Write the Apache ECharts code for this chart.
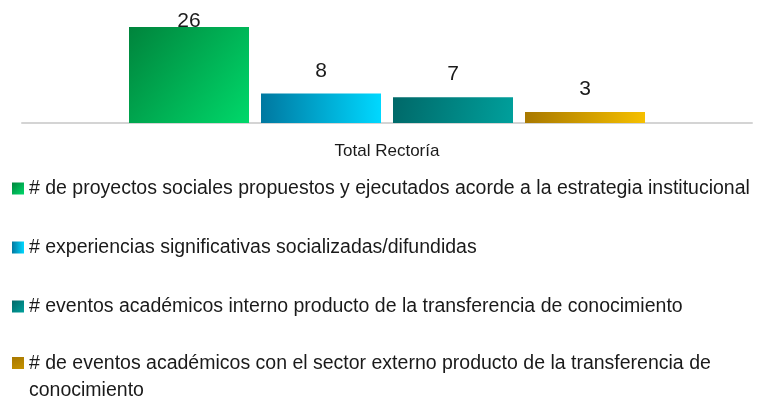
<!DOCTYPE html>
<html>
<head>
<meta charset="utf-8">
<script src="https://cdn.jsdelivr.net/npm/echarts@6/dist/echarts.min.js"></script>
<style>
    html, body { margin: 0; padding: 0; background: #fff; }
    #chart { width: 759px; height: 400px; }
</style>
</head>
<body>
<div id="chart"></div>
<script>
    let categories = ['Total Rectoría'];
    let seriesNames = [
        '# de proyectos sociales propuestos y ejecutados acorde a la estrategia institucional',
        '# experiencias significativas socializadas/difundidas',
        '# eventos académicos interno producto de la transferencia de conocimiento',
        '# de eventos académicos con el sector externo producto de la transferencia de conocimiento'
    ];
    let seriesValues = [26, 8, 7, 3];

    // gradient colours, dark -> light
    let gradients = [
        { x: 0, y: 0, x2: 1, y2: 1, from: '#00843c', to: '#00d86a' },
        { x: 0, y: 0, x2: 1, y2: 0, from: '#0078a0', to: '#00d8ff' },
        { x: 0, y: 0, x2: 1, y2: 1, from: '#006868', to: '#00a09c' },
        { x: 0, y: 0, x2: 1, y2: 1, from: '#a87800', to: '#f6c000' }
    ];

    let font = "'Liberation Sans', Arial, sans-serif";

    let chart = echarts.init(document.getElementById('chart'));

    let series = seriesNames.map(function (name, i) {
        let g = gradients[i];
        let top = seriesValues[i] === Math.max.apply(null, seriesValues);
        return {
            name: name,
            type: 'bar',
            barWidth: 120,
            barGap: '10%',
            itemStyle: {
                color: new echarts.graphic.LinearGradient(g.x, g.y, g.x2, g.y2, [
                    { offset: 0, color: g.from },
                    { offset: 1, color: g.to }
                ])
            },
            label: {
                show: true,
                position: top ? 'insideTop' : 'top',
                distance: top ? -16 : 12,
                fontFamily: font,
                fontSize: 21,
                color: '#1a1a1a'
            },
            data: [seriesValues[i]]
        };
    });

    function legendOf(names, top, lineHeight, icon, iconH) {
        return {
            data: names,
            orient: 'vertical',
            left: 12,
            top: top,
            padding: 0,
            itemWidth: 12,
            itemHeight: iconH,
            itemGap: 36,
            icon: icon,
            symbolKeepAspect: false,
            textStyle: {
                fontFamily: font,
                fontSize: 19.5,
                color: '#1a1a1a',
                lineHeight: lineHeight,
                width: 735,
                overflow: 'break'
            }
        };
    }

    // square sitting on the first line of a wrapped legend entry
    let topSquare = 'path://M0,0H12V12H0Z M0,40L0,40.01L0.01,40Z';

    chart.setOption({
        animation: false,
        textStyle: { fontFamily: font },
        grid: { left: 22, right: 7, top: 27, bottom: 277 },
        xAxis: {
            type: 'category',
            data: categories,
            axisLine: { lineStyle: { color: '#d4d4d4', width: 2 } },
            axisTick: { show: false },
            axisLabel: { fontFamily: font, fontSize: 17, color: '#1a1a1a', margin: 20 }
        },
        yAxis: {
            type: 'value',
            min: 0,
            max: 26,
            show: false
        },
        legend: [
            legendOf(seriesNames.slice(0, 3), 177, 23, 'rect', 12),
            legendOf(seriesNames.slice(3), 350, 27, topSquare, 40)
        ],
        series: series
    });
</script>
</body>
</html>
